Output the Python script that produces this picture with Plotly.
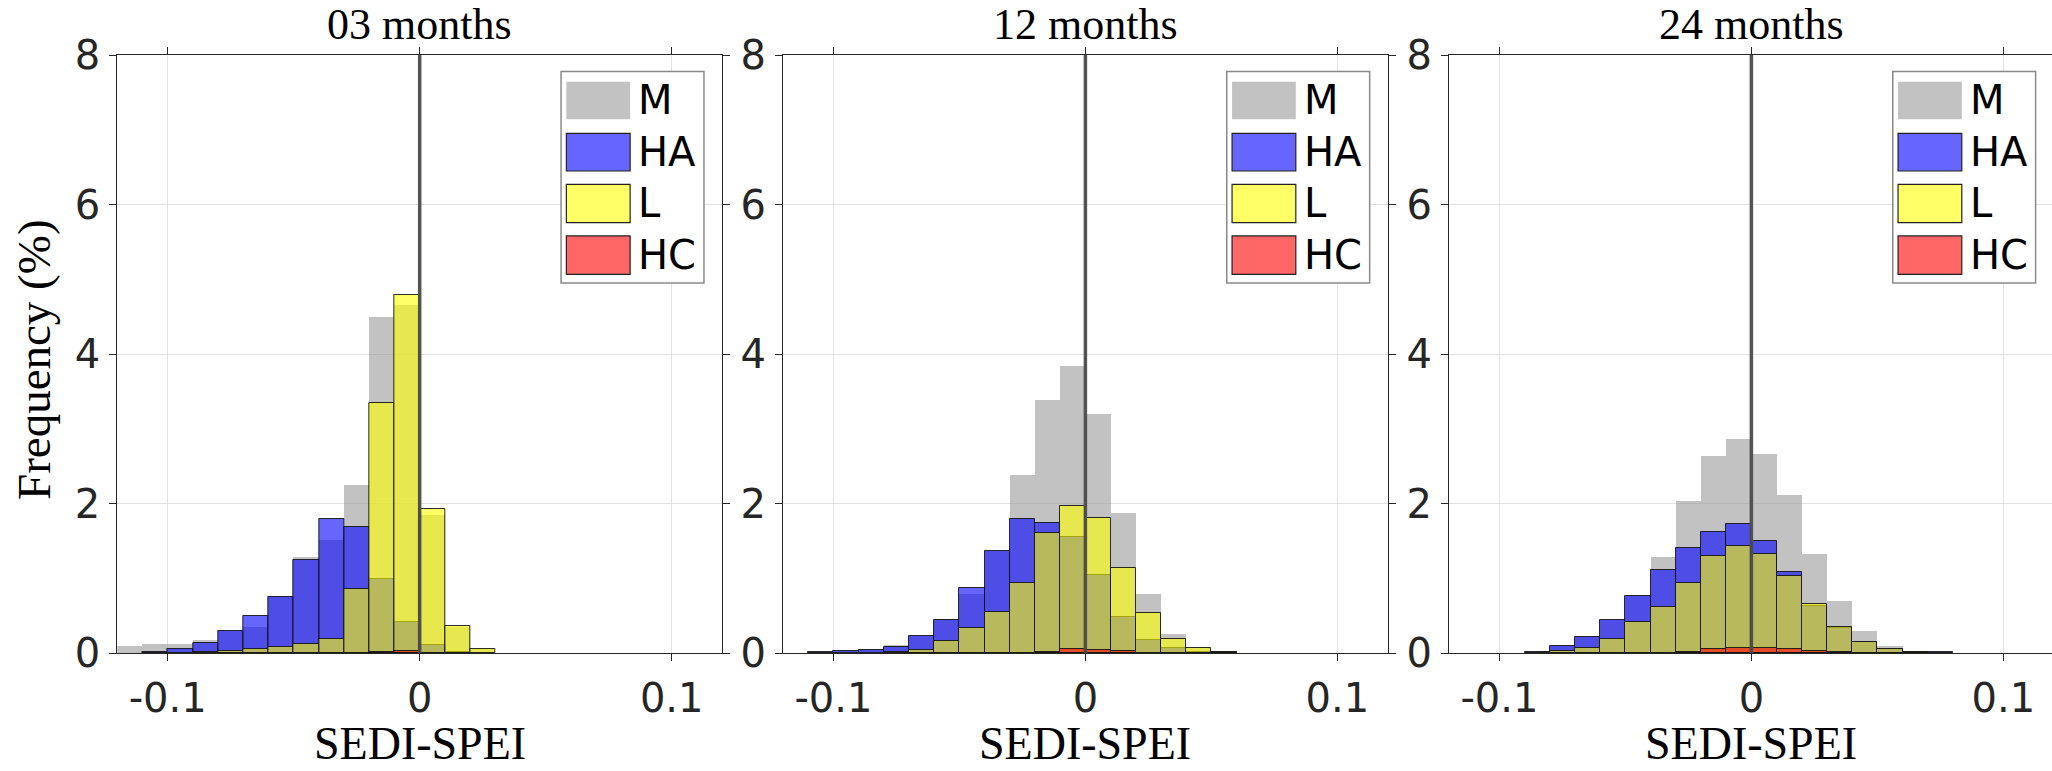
import plotly.graph_objects as go

# ---------------- data ----------------
BIN_CENTERS = [-0.115, -0.105, -0.095, -0.085, -0.075, -0.065, -0.055, -0.045, -0.035, -0.025,
               -0.015, -0.005, 0.005, 0.015, 0.025, 0.035, 0.045, 0.055, 0.065, 0.075]
BIN_WIDTH = 0.01

PANEL_TITLES = ["03 months", "12 months", "24 months"]
SERIES_NAMES = ["M", "HA", "L", "HC"]

M_03 = [0.10, 0.125, 0.115, 0.17, 0.29, 0.35, 0.76, 1.29, 1.51, 2.25, 4.50, 4.65, 1.84, 0.35, 0.05,
        None, None, None, None, None]
HA_03 = [None, 0.02, 0.06, 0.14, 0.29, 0.49, 0.75, 1.25, 1.79, 1.69, 0.99, 0.42, 0.11, 0.01, None,
         None, None, None, None, None]
L_03 = [None, None, None, 0.02, 0.027, 0.054, 0.076, 0.12, 0.19, 0.86, 3.34, 4.79, 1.92, 0.36, 0.05,
        None, None, None, None, None]
HC_03 = [None, None, None, None, None, None, None, None, None, None, 0.018, 0.027, None, None, None,
         None, None, None, None, None]

M_12 = [None, 0.018, 0.031, 0.06, 0.107, 0.23, 0.455, 0.79, 1.36, 2.38, 3.38, 3.84, 3.20, 1.87, 0.795,
        0.26, 0.0625, 0.013, None, None]
HA_12 = [None, 0.018, 0.031, 0.045, 0.08, 0.23, 0.44, 0.866, 1.36, 1.79, 1.745, 1.55, 1.05, 0.48, 0.18,
         0.067, 0.02, 0.013, None, None]
L_12 = [None, None, None, None, 0.01, 0.04, 0.16, 0.34, 0.55, 0.93, 1.61, 1.97, 1.81, 1.14, 0.536,
        0.19, 0.0625, 0.01, None, None]
HC_12 = [None, None, None, None, None, None, None, None, None, None, 0.018, 0.054, 0.045, 0.027, None,
         None, None, None, None, None]

M_24 = [None, None, None, 0.013, 0.094, 0.22, 0.44, 0.77, 1.29, 2.03, 2.64, 2.86, 2.66, 2.11, 1.32,
        0.69, 0.30, 0.10, 0.018, 0.009]
HA_24 = [None, None, None, 0.013, 0.094, 0.22, 0.44, 0.76, 1.11, 1.40, 1.62, 1.73, 1.50, 1.08, 0.63,
         0.33, 0.15, 0.054, 0.018, 0.009]
L_24 = [None, None, None, None, 0.03, 0.071, 0.183, 0.41, 0.62, 0.94, 1.30, 1.43, 1.32, 1.03, 0.656,
        0.353, 0.152, 0.058, 0.01, None]
HC_24 = [None, None, None, None, None, None, None, None, None, 0.018, 0.058, 0.071, 0.067, 0.058, 0.031,
         0.018, None, None, None, None]

PANEL_DATA = [
    [M_03, HA_03, L_03, HC_03],
    [M_12, HA_12, L_12, HC_12],
    [M_24, HA_24, L_24, HC_24],
]

X_TICKS = [-0.1, 0, 0.1]
X_TICK_TEXT = ["-0.1", "0", "0.1"]
Y_TICKS = [0, 2, 4, 6, 8]
Y_TICK_TEXT = ["0", "2", "4", "6", "8"]
X_TITLE = "SEDI-SPEI"
Y_TITLE = "Frequency (%)"

# ---------------- style ----------------
W, H = 2052, 771
FILL = {
    "M": "rgba(153,153,153,0.6)",
    "HA": "rgba(0,0,255,0.6)",
    "L": "rgba(255,255,0,0.6)",
    "HC": "rgba(255,0,0,0.6)",
}
EDGE_W = {"M": 0, "HA": 1, "L": 1, "HC": 1}
EDGE_C = "rgba(20,20,20,0.9)"
AX_COLOR = "#262626"
GRID_COLOR = "#e3e3e3"
TICK_FONT = dict(family="DejaVu Sans", size=40, color=AX_COLOR)
SERIF = "Liberation Serif"

X_DOMAINS = [(117.3 / W, 722.1 / W), (783.0 / W, 1387.8 / W), (1449.0 / W, 1.0)]
X_RANGES = [(-0.12, 0.12), (-0.12, 0.12), (-0.12, 0.1193)]
Y_DOMAIN = ((H - 653.0) / H, (H - 55.0) / H)
Y_RANGE = (0, 8)

fig = go.Figure()

for p in range(3):
    xa = "x" if p == 0 else f"x{p + 1}"
    ya = "y" if p == 0 else f"y{p + 1}"
    for name, vals in zip(SERIES_NAMES, PANEL_DATA[p]):
        fig.add_trace(go.Bar(
            x=BIN_CENTERS, y=vals, width=BIN_WIDTH, name=name,
            marker=dict(color=FILL[name],
                        line=dict(color=EDGE_C, width=EDGE_W[name])),
            xaxis=xa, yaxis=ya, showlegend=False, hoverinfo="skip",
        ))

layout = dict(
    width=W, height=H,
    margin=dict(l=0, r=0, t=0, b=0, autoexpand=False),
    paper_bgcolor="white", plot_bgcolor="white",
    barmode="overlay", bargap=0,
    showlegend=False,
)

shapes = []
annotations = []

for p in range(3):
    suffix = "" if p == 0 else str(p + 1)
    xref = "x" + suffix
    yref = "y" + suffix
    layout["xaxis" + suffix] = dict(
        domain=list(X_DOMAINS[p]), range=list(X_RANGES[p]), anchor=yref,
        tickvals=X_TICKS, ticktext=X_TICK_TEXT, tickfont=TICK_FONT,
        ticks="outside", ticklen=7, tickwidth=1, tickcolor=AX_COLOR,
        showline=True, linecolor=AX_COLOR, linewidth=1, mirror="ticks",
        showgrid=True, gridcolor=GRID_COLOR, gridwidth=1, zeroline=False,
        ticklabelstandoff=3, automargin=False,
    )
    layout["yaxis" + suffix] = dict(
        domain=list(Y_DOMAIN), range=list(Y_RANGE), anchor=xref,
        tickvals=Y_TICKS, ticktext=Y_TICK_TEXT, tickfont=TICK_FONT,
        ticks="outside", ticklen=7, tickwidth=1, tickcolor=AX_COLOR,
        showline=True, linecolor=AX_COLOR, linewidth=1, mirror="ticks",
        showgrid=True, gridcolor=GRID_COLOR, gridwidth=1, zeroline=False,
        ticklabelstandoff=1, automargin=False,
    )

    # vertical reference line at 0
    shapes.append(dict(type="line", xref=xref, yref=yref + " domain",
                       x0=0, x1=0, y0=0, y1=1, layer="above",
                       line=dict(color="rgba(75,75,75,0.95)", width=3.5)))

    # panel title
    annotations.append(dict(text=PANEL_TITLES[p], xref=xref, yref="paper",
                            x=0, y=(H - 24.0) / H, xanchor="center", yanchor="middle",
                            showarrow=False, font=dict(family=SERIF, size=44, color="black")))
    # x-axis title
    annotations.append(dict(text=X_TITLE, xref=xref, yref="paper",
                            x=0, y=0.0, xanchor="center", yanchor="bottom",
                            showarrow=False, font=dict(family=SERIF, size=46, color="black")))

    # custom legend (box + swatches + labels), in axis coordinates
    shapes.append(dict(type="rect", xref=xref, yref=yref, x0=0.0561, x1=0.1128, y0=4.95, y1=7.78,
                       fillcolor="white", line=dict(color="#8a8a8a", width=1.5), layer="above"))
    sw_rows = [(7.643, 7.140), (6.952, 6.448), (6.270, 5.757), (5.579, 5.066)]
    for name, (yt, yb) in zip(SERIES_NAMES, sw_rows):
        shapes.append(dict(type="rect", xref=xref, yref=yref, x0=0.0582, x1=0.0835, y0=yb, y1=yt,
                           fillcolor=FILL[name], layer="above",
                           line=dict(color=("rgba(0,0,0,0)" if name == "M" else "#222222"),
                                     width=(0 if name == "M" else 1.2))))
        annotations.append(dict(text=name, xref=xref, yref=yref, x=0.0860, y=(yt + yb) / 2,
                                xanchor="left", yanchor="middle", showarrow=False,
                                font=dict(family="DejaVu Sans", size=40, color="black")))

# y-axis title
annotations.append(dict(text=Y_TITLE, xref="paper", yref="paper", x=34.0 / W, y=(H - 360.0) / H,
                        xanchor="center", yanchor="middle", textangle=-90, showarrow=False,
                        font=dict(family=SERIF, size=47, color="black")))

layout["shapes"] = shapes
layout["annotations"] = annotations
fig.update_layout(**layout)

fig.write_html("out.html",
               config={"displayModeBar": False},
               post_script="document.body.style.margin='0px';document.body.style.overflow='hidden';")
